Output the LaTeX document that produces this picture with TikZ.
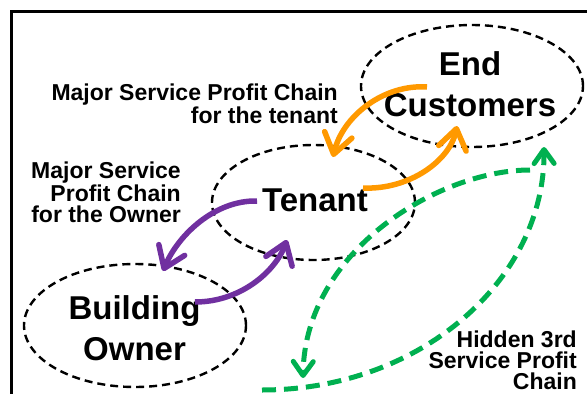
\documentclass[tikz,border=0pt]{standalone}
\usepackage{fontspec}
\setmainfont{Liberation Sans}
\usetikzlibrary{shapes.geometric,arrows.meta}

\definecolor{chainorange}{RGB}{255,153,0}
\definecolor{chainpurple}{RGB}{112,48,160}
\definecolor{chaingreen}{RGB}{0,176,80}

\tikzset{
  party/.style={draw, ellipse, line width=2.4pt, dash pattern=on 8pt off 5pt, inner sep=0pt},
  partytext/.style={font=\fontsize{33}{41}\selectfont\bfseries, align=center, inner sep=0pt},
  chaintext/.style={font=\fontsize{23}{20.8}\selectfont\bfseries, align=right, inner sep=0pt, anchor=north east},
  chain/.style={line width=5.5pt, -{Straight Barb[length=20pt, width=28pt, line width=5.5pt, round]}},
  hidden/.style={line width=5pt, draw=chaingreen, dash pattern=on 14pt off 8pt,
    -{Straight Barb[length=14pt, width=20pt, line width=5pt, round]}}
}

\begin{document}
\begin{tikzpicture}[x=1pt, y=-1pt]
\useasboundingbox (0,0) rectangle (587,394);

\draw[line width=3pt] (11,11) rectangle (650,450);

% the three parties
\node[party, minimum width=222pt, minimum height=122pt] (endc) at (472,86) {};
\node[party, minimum width=203pt, minimum height=115pt] (tenant) at (313.5,202.5) {};
\node[party, minimum width=222pt, minimum height=123pt] (owner) at (135,325.5) {};
\node[partytext] (endclabel) at (470,84) {End\\Customers};
\node[partytext] (tenantlabel) at (315,200) {Tenant};
\node[partytext] (ownerlabel) at (134.5,328) {Building\\Owner};

% chain captions
\node[chaintext] (tenantchain) at (338,84) {Major Service Profit Chain\\for the tenant};
\node[chaintext] (ownerchain) at (181,162) {Major Service\\Profit Chain\\for the Owner};
\node[chaintext] (hiddenchain) at (577,331) {Hidden 3rd\\Service Profit\\Chain};

% arrow ends
\coordinate (endcout) at (427,87);
\coordinate (tenantin) at (333,157);
\coordinate (tenantout) at (363,188);
\coordinate (endcin) at (457,126);
\coordinate (tenantleft) at (257,201);
\coordinate (ownerin) at (163,271);
\coordinate (ownerout) at (195,302);
\coordinate (tenantbottom) at (287,240);
\coordinate (hiddenstart) at (262,390);
\coordinate (hiddenend) at (544,147);
\coordinate (hiddenback) at (530,170);
\coordinate (hiddentip) at (303,378);

\draw[chain, draw=chainorange] (endcout) .. controls (385,84) and (343,115) .. (tenantin);
\draw[chain, draw=chainorange] (tenantout) .. controls (410,190) and (450,160) .. (endcin);
\draw[chain, draw=chainpurple] (tenantleft) .. controls (215,200) and (178,235) .. (ownerin);
\draw[chain, draw=chainpurple] (ownerout) .. controls (240,302) and (275,272) .. (tenantbottom);
\draw[hidden] (hiddenstart) .. controls (420,390) and (545,280) .. (hiddenend);
\draw[hidden] (hiddenback) .. controls (440,170) and (305,250) .. (hiddentip);
\end{tikzpicture}
\end{document}
